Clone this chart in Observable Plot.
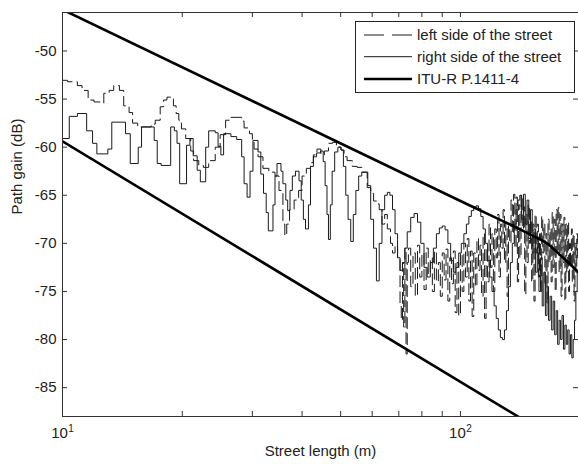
<!DOCTYPE html>
<html><head><meta charset="utf-8">
<script src="https://cdn.jsdelivr.net/npm/d3@7"></script>
<script src="https://cdn.jsdelivr.net/npm/@observablehq/plot@0.6"></script>
<style>
html,body{margin:0;padding:0;background:#fff;overflow:hidden}
#wrap{position:relative;width:578px;height:465px}
#legend{position:absolute;left:355px;top:21px}
</style></head><body><div id="wrap"></div>
<script>
// ---- data ----
const leftDist = [10.0,10.3,10.9,11.2,11.6,12.0,12.5,12.7,13.1,13.45,13.9,14.25,14.7,15.0,15.45,16.7,17.1,17.6,17.95,18.3,19.0,19.3,19.6,19.9,20.4,21.0,21.35,22.0,22.6,23.3,24.2,24.9,25.7,26.4,28.2,28.6,29.5,30.0,30.3,31.0,31.9,33.0,34.2,35.0,35.8,36.2,36.6,37.2,38.2,39.2,40.0,41.0,42.0,42.7,43.6,44.6,45.5,46.6,47.7,48.8,50.1,51.0,51.9,53.5,55.0,56.5,58.3,59.5,60.5,61.7,62.5,63.5,64.5,65.5,66.7,67.5,68.5,69.5,70.5,71.0,71.5,72.0,72.5,73.0,73.5,
74,75,76,77,78,79,80,81,82,83,84,85,86,87,88,89,90,91,92,93,94,95,96,97,98,99,100,101,102,103,104,105,106,107,108,109,110,111,112,113,114,115,116,117,118,119,120,121,122,123,124,125,126,127,128,129,130,131,132,133,134,135,136,137,138,139,140,141,142,143,144,145,146,147,148,149,150,151,152,153,154,155,156,157,158,159,160,161,162,163,164,165,166,167,168,169,170,171,172,173,174,175,176,177,178,179,180,181,182,183,184,185,186,187,188,189,190,191,192,193,194,195,196,197,198];
const leftGain = [-53.05,-53.2,-53.6,-54.1,-55.1,-55.3,-55.4,-54.4,-54.1,-53.6,-54.1,-55.7,-56.4,-57.5,-57.9,-57.6,-57.2,-55.8,-55.1,-54.8,-55.7,-56.5,-57.2,-58.1,-59.1,-60.4,-61.4,-61.9,-62.1,-61.4,-60.0,-58.7,-57.2,-56.9,-57.3,-58.0,-58.6,-59.3,-60.2,-61.0,-62.2,-62.6,-63.0,-64.5,-68.0,-69.2,-68.0,-66.5,-65.5,-64.5,-63.0,-62.2,-61.6,-60.8,-60.2,-60.8,-60.4,-59.6,-59.5,-60.0,-60.3,-61.0,-61.4,-62.0,-62.1,-62.6,-64.2,-64.8,-65.6,-65.9,-66.5,-68.0,-67.0,-68.5,-70.0,-71.0,-70.2,-71.5,-76.5,-78.0,-72.0,-78.7,-70.5,-81.5,-72.0,
-70.5,-74.5,-71.0,-75.5,-70.2,-73.5,-71.0,-74.8,-70.5,-73.2,-71.5,-75.0,-70.8,-74.0,-72.0,-75.5,-71.0,-73.8,-70.6,-76.0,-71.5,-74.2,-70.8,-77.2,-72.0,-77.5,-71.0,-75.0,-70.0,-73.5,-69.5,-76.0,-70.8,-77.6,-71.0,-74.5,-69.5,-72.8,-70.2,-75.5,-69.0,-77.8,-70.5,-74.0,-68.0,-72.5,-69.0,-75.0,-68.5,-71.5,-67.0,-73.5,-68.0,-70.5,-66.5,-72.0,-67.8,-75.5,-68.2,-70.0,-65.5,-69.0,-64.9,-70.5,-65.2,-74.0,-66.0,-71.5,-65.0,-68.5,-66.2,-75.3,-67.0,-72.0,-66.0,-70.0,-67.5,-74.0,-68.0,-76.0,-67.0,-71.0,-68.0,-73.5,-69.0,-75.0,-67.2,-71.0,-68.0,-74.5,-69.0,-76.2,-67.5,-72.0,-68.5,-74.0,-66.8,-72.5,-67.5,-75.0,-66.5,-71.0,-66.3,-73.0,-67.0,-75.5,-68.0,-72.0,-67.3,-76.0,-68.0,-73.0,-67.8,-75.0,-70.0,-72.5,-68.5,-74.0,-69.0,-76.0,-70.0,-73.0,-69.0,-71.5,-70.0];

const rightDist = [10.0,10.4,10.9,11.5,11.9,12.2,13.0,13.3,14.4,14.8,15.5,15.8,17.0,17.3,17.7,18.7,19.1,19.4,19.7,20.5,20.9,21.3,21.8,22.2,22.9,23.3,24.2,24.6,25.0,25.4,26.5,27.4,28.2,28.6,29.1,29.6,30.1,31.0,31.5,32.0,32.5,32.9,33.8,34.2,34.6,35.4,35.8,36.4,36.8,37.3,37.8,38.5,39.3,39.8,40.3,40.8,41.5,42.0,42.7,43.5,44.5,45.2,45.7,46.2,46.6,47.1,47.6,48.3,49.2,50.1,50.8,51.5,52.2,53.0,53.8,54.6,55.5,56.5,57.5,58.5,59.5,60.5,61.5,62.5,63.5,64.5,65.5,66.5,67.5,68.5,69.5,70.5,71.5,72.5,73.5,75.0,76.5,78.0,79.5,81.0,82.5,84.0,85.5,87.0,88.5,90.0,91.5,93.0,94.5,96.0,97.5,99.0,100.5,102.0,103.5,105.0,106.5,108.0,109.5,111.0,112.5,114.0,115.5,117.0,118.5,120.0,121.5,123.0,124.5,126.0,127.5,129.0,130.5,132.0,133.5,135.0,136.5,138.0,139.5,141.0,142.5,144.0,145.5,147.0,148.5,150.0,151.5,153.0,154.5,156.0,157.5,159.0,160.5,162.0,163.5,165.0,166.5,168.0,169.5,171.0,172.5,174.0,175.5,177.0,178.5,180.0,181.5,183.0,184.5,186.0,187.5,189.0,190.5,192.0,193.5,195.0,196.5,198.0];
const rightGain = [-59.1,-56.8,-56.5,-58.3,-59.6,-60.7,-60.2,-57.4,-58.6,-61.7,-60.0,-57.9,-59.3,-61.7,-61.9,-57.9,-58.3,-59.6,-63.8,-59.8,-59.1,-60.9,-62.4,-63.6,-60.0,-58.3,-58.5,-59.9,-60.8,-58.6,-58.9,-59.2,-61.0,-63.8,-65.2,-62.5,-59.3,-60.5,-62.8,-64.8,-66.8,-68.7,-66.0,-63.0,-61.7,-62.5,-63.8,-65.5,-66.6,-64.5,-63.0,-62.5,-63.5,-65.5,-67.5,-68.5,-66.0,-62.0,-61.0,-60.6,-60.4,-61.5,-64.0,-67.0,-69.6,-66.0,-62.5,-60.5,-60.0,-60.3,-62.0,-65.0,-67.5,-69.8,-67.0,-64.5,-63.0,-62.6,-62.6,-64.0,-67.5,-70.5,-73.9,-70.0,-66.5,-65.0,-64.7,-65.0,-66.5,-69.0,-71.5,-72.8,-72.0,-70.5,-68.8,-67.3,-66.9,-67.8,-70.0,-72.5,-73.5,-72.0,-70.5,-69.0,-68.4,-68.2,-68.6,-70.0,-71.8,-73.0,-72.5,-71.0,-70.0,-69.0,-68.0,-67.2,-66.6,-66.2,-66.1,-66.4,-67.2,-68.5,-70.0,-71.8,-73.5,-75.0,-76.5,-77.8,-79.0,-79.8,-80.0,-79.0,-77.0,-74.5,-72.0,-70.0,-68.0,-66.5,-65.5,-65.0,-67.5,-64.9,-68.0,-65.5,-69.5,-66.5,-71.0,-68.5,-73.0,-70.0,-75.0,-71.5,-76.5,-73.0,-77.5,-74.5,-78.0,-75.5,-79.0,-76.0,-79.5,-77.0,-80.5,-78.0,-80.0,-77.5,-81.0,-78.5,-80.5,-79.0,-81.5,-79.5,-81.9,-80.0,-78.0,-75.0,-73.0,-71.0];

const ituUpperDist = [10, 100, 150, 165, 180, 198];
const ituUpperGain = [-45.7, -65.6, -69.1, -70.0, -71.4, -73.0];
const ituLowerDist = [10, 100, 200];
const ituLowerGain = [-59.4, -84.4, -91.9];

const yTicks = [-85, -80, -75, -70, -65, -60, -55, -50];
const xTicks = [10, 20, 30, 40, 50, 60, 70, 80, 90, 100];
const xMajor = [10, 100];
const xMajorBase = ["10", "10"];
const xMajorExp = ["1", "2"];
const legendLabels = ["left side of the street", "right side of the street", "ITU-R P.1411-4"];
const xLabel = "Street length (m)";
const yLabel = "Path gain (dB)";

// ---- build ----
const rows = (ds, gs) => ds.map((d, i) => ({d, g: gs[i]}));
const left = rows(leftDist, leftGain);
const right = rows(rightDist, rightGain);
const upper = rows(ituUpperDist, ituUpperGain);
const lower = rows(ituLowerDist, ituLowerGain);

const W = 578, H = 465, ML = 62, MR = 0, MT = 12, MB = 49;
const IW = W - ML - MR, IH = H - MT - MB, TK = 5;
const ink = "#222", axisInk = "#333";
const font = "'Liberation Sans', Arial, sans-serif";

const chart = Plot.plot({
  width: W, height: H,
  marginLeft: ML, marginRight: MR, marginTop: MT, marginBottom: MB,
  x: {type: "log", domain: [10, 198], axis: null},
  y: {domain: [-88, -46], axis: null},
  style: {background: "#fff", fontFamily: font, fontSize: "15px", color: ink},
  marks: [
    Plot.line(right, {x: "d", y: "g", curve: "step-after", stroke: "#1a1a1a", strokeWidth: 1, clip: true}),
    Plot.line(left, {x: "d", y: "g", curve: "step-after", stroke: "#1a1a1a", strokeWidth: 1, strokeDasharray: "11,5", clip: true}),
    Plot.line(upper, {x: "d", y: "g", curve: "monotone-x", stroke: "#000", strokeWidth: 2.6, clip: true}),
    Plot.line(lower, {x: "d", y: "g", stroke: "#000", strokeWidth: 2.6, clip: true}),
    // inward ticks on all four sides
    Plot.tickY(yTicks, {y: d => d, insetRight: IW - TK, stroke: axisInk}),
    Plot.tickY(yTicks, {y: d => d, insetLeft: IW - TK, stroke: axisInk}),
    Plot.tickX(xTicks, {x: d => d, insetTop: IH - TK, stroke: axisInk}),
    Plot.tickX(xTicks, {x: d => d, insetBottom: IH - TK, stroke: axisInk}),
    Plot.frame({stroke: axisInk, strokeWidth: 1}),
    // tick labels
    Plot.text(yTicks, {y: d => d, frameAnchor: "left", dx: -6, textAnchor: "end", text: d => String(d), fill: ink, fontSize: 15}),
    Plot.text(xMajor, {x: d => d, frameAnchor: "bottom", dy: 21, dx: -3, text: (d, i) => xMajorBase[i], fill: ink, fontSize: 15}),
    Plot.text(xMajor, {x: d => d, frameAnchor: "bottom", dy: 15, dx: 8.5, text: (d, i) => xMajorExp[i], fill: ink, fontSize: 10}),
    // axis titles
    Plot.text([xLabel], {frameAnchor: "bottom", dy: 39, text: d => d, fill: ink, fontSize: 15}),
    Plot.text([yLabel], {frameAnchor: "left", dx: -45, rotate: -90, text: d => d, fill: ink, fontSize: 15})
  ]
});

const wrap = document.getElementById("wrap");
wrap.appendChild(chart);

// legend box (MATLAB-style, inside axes top-right)
const styles = [
  {w: 1, dash: "20,8"},
  {w: 1, dash: null},
  {w: 2.6, dash: null}
];
const lg = d3.create("svg").attr("id", "legend").attr("width", 220).attr("height", 72)
  .style("font-family", font).style("font-size", "15px");
lg.append("rect").attr("x", 0.5).attr("y", 0.5).attr("width", 219).attr("height", 71)
  .attr("fill", "#fff").attr("stroke", "#222");
legendLabels.forEach((lab, i) => {
  const y = [14, 35.7, 58][i];
  lg.append("line").attr("x1", 9).attr("x2", 57).attr("y1", y).attr("y2", y)
    .attr("stroke", i === 2 ? "#000" : "#1a1a1a").attr("stroke-width", styles[i].w)
    .attr("stroke-dasharray", styles[i].dash);
  lg.append("text").attr("x", 62).attr("y", y).attr("dy", "0.36em").attr("fill", ink).text(lab);
});
wrap.appendChild(lg.node());
</script></body></html>
